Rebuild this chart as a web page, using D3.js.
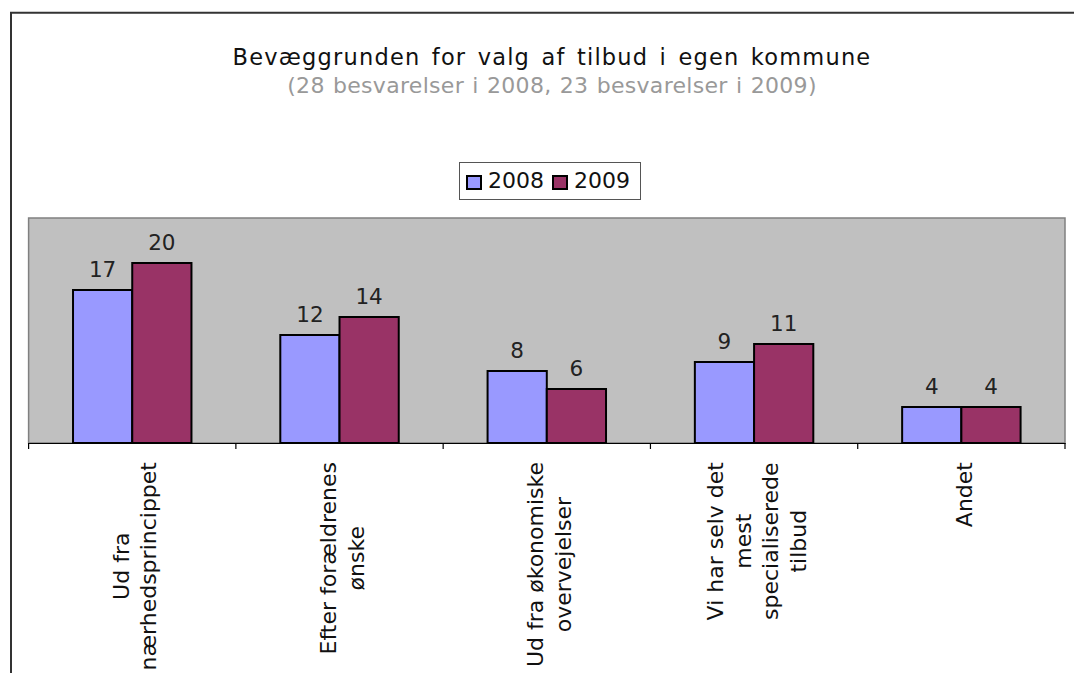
<!DOCTYPE html>
<html>
<head>
<meta charset="utf-8">
<script src="https://cdn.jsdelivr.net/npm/d3@7"></script>
<style>
  body { margin: 0; background: #fff; overflow: hidden; }
  text { font-family: "DejaVu Sans", Verdana, sans-serif; }
</style>
</head>
<body>
<div id="chart"></div>
<script>
const categories = [
  ["Ud fra", "nærhedsprincippet"],
  ["Efter forældrenes", "ønske"],
  ["Ud fra økonomiske", "overvejelser"],
  ["Vi har selv det", "mest", "specialiserede", "tilbud"],
  ["Andet"]
];
const series = ["2008", "2009"];
const values2008 = [17, 12, 8, 9, 4];
const values2009 = [20, 14, 6, 11, 4];
const yDomain = [0, 25];

const colors = { "2008": "#9999ff", "2009": "#993366" };

const width = 1074, height = 673;
const plot = { left: 28.6, right: 1065, top: 218, bottom: 443 };

const svg = d3.select("#chart")
  .append("svg")
  .attr("width", width)
  .attr("height", height);

// outer frame (only left and top edges visible)
svg.append("path")
  .attr("d", `M11,${height} L11,12.7 L${width},12.7`)
  .attr("fill", "none")
  .attr("stroke", "#333")
  .attr("stroke-width", 2);

// title
svg.append("text")
  .attr("x", 552)
  .attr("y", 65)
  .attr("text-anchor", "middle")
  .attr("font-size", 22.5)
  .attr("letter-spacing", 1.2)
  .attr("word-spacing", 3)
  .attr("fill", "#111")
  .text("Bevæggrunden for valg af tilbud i egen kommune");

svg.append("text")
  .attr("x", 552)
  .attr("y", 92.5)
  .attr("text-anchor", "middle")
  .attr("font-size", 22)
  .attr("letter-spacing", 0.3)
  .attr("word-spacing", 1)
  .attr("fill", "#999")
  .text("(28 besvarelser i 2008, 23 besvarelser i 2009)");

// legend
const legend = svg.append("g");
legend.append("rect")
  .attr("x", 459.5).attr("y", 162.5)
  .attr("width", 181).attr("height", 37)
  .attr("fill", "#fff")
  .attr("stroke", "#555")
  .attr("stroke-width", 1);

const legendX = [467, 553];
series.forEach((s, i) => {
  legend.append("rect")
    .attr("x", legendX[i]).attr("y", 176)
    .attr("width", 14).attr("height", 13)
    .attr("fill", colors[s])
    .attr("stroke", "#000")
    .attr("stroke-width", 2);
  legend.append("text")
    .attr("x", legendX[i] + 21).attr("y", 188.3)
    .attr("font-size", 22)
    .attr("fill", "#111")
    .text(s);
});

// scales
const x0 = d3.scaleBand()
  .domain(d3.range(categories.length))
  .range([plot.left, plot.right])
  .padding(0);

const x1 = d3.scaleBand()
  .domain(series)
  .range([0, x0.bandwidth()])
  .paddingInner(0)
  .paddingOuter(0.75);

const y = d3.scaleLinear()
  .domain(yDomain)
  .range([plot.bottom, plot.top]);

// plot area
svg.append("rect")
  .attr("x", plot.left).attr("y", plot.top)
  .attr("width", plot.right - plot.left)
  .attr("height", plot.bottom - plot.top)
  .attr("fill", "#c0c0c0")
  .attr("stroke", "#808080")
  .attr("stroke-width", 1.5);

const data = categories.map((c, i) => ({
  i: i,
  values: [
    { key: "2008", value: values2008[i] },
    { key: "2009", value: values2009[i] }
  ]
}));

const groups = svg.selectAll(".group")
  .data(data)
  .enter()
  .append("g")
  .attr("class", "group")
  .attr("transform", d => `translate(${x0(d.i)},0)`);

groups.selectAll("rect")
  .data(d => d.values)
  .enter()
  .append("rect")
  .attr("x", d => x1(d.key))
  .attr("y", d => y(d.value))
  .attr("width", x1.bandwidth())
  .attr("height", d => y(0) - y(d.value))
  .attr("fill", d => colors[d.key])
  .attr("stroke", "#000")
  .attr("stroke-width", 2);

groups.selectAll(".lbl")
  .data(d => d.values)
  .enter()
  .append("text")
  .attr("class", "lbl")
  .attr("x", d => x1(d.key) + x1.bandwidth() / 2)
  .attr("y", d => y(d.value) - 13.4)
  .attr("text-anchor", "middle")
  .attr("font-size", 21.5)
  .attr("fill", "#222")
  .text(d => d.value);

// x axis with ticks at category boundaries
const xAxis = d3.axisBottom(x0).tickSize(0).tickFormat("");
svg.append("g")
  .attr("transform", `translate(0,${plot.bottom})`)
  .call(xAxis)
  .call(g => g.select(".domain").attr("stroke", "#000").attr("stroke-width", 1.2));

const bounds = d3.range(categories.length + 1).map(i => plot.left + i * x0.step());
svg.selectAll(".tick-b")
  .data(bounds)
  .enter()
  .append("line")
  .attr("class", "tick-b")
  .attr("x1", d => d).attr("x2", d => d)
  .attr("y1", plot.bottom).attr("y2", plot.bottom + 6)
  .attr("stroke", "#000")
  .attr("stroke-width", 1.2);

// rotated, multi-line category labels
const lineH = 27.8;
categories.forEach((lines, i) => {
  const cx = x0(i) + x0.bandwidth() / 2;
  const g = svg.append("g")
    .attr("transform", `translate(${cx},462) rotate(-90)`);
  const texts = lines.map((line, j) => g.append("text")
    .attr("y", (j - (lines.length - 1) / 2) * lineH)
    .attr("dy", "0.47em")
    .attr("text-anchor", "middle")
    .attr("font-size", 22)
    .attr("fill", "#111")
    .text(line));
  const maxLen = d3.max(texts, t => t.node().getComputedTextLength());
  texts.forEach(t => t.attr("x", -maxLen / 2));
});
</script>
</body>
</html>
